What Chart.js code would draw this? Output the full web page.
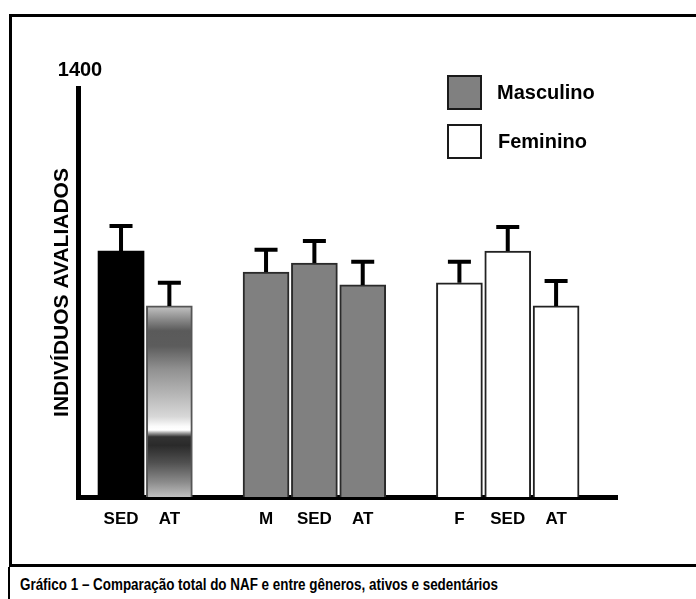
<!DOCTYPE html>
<html>
<head>
<meta charset="utf-8">
<script src="https://cdn.jsdelivr.net/npm/chart.js@4/dist/chart.umd.min.js"></script>
<style>
  body { margin: 0; background: #fff; }
  #wrap { position: relative; width: 696px; height: 599px; overflow: hidden; }
  #frame { position: absolute; left: 9px; top: 14px; width: 700px; height: 547px; border: 3px solid #000; border-right: none; }
  #capline { position: absolute; left: 8px; top: 567px; height: 32px; border-left: 2px solid #000; }
  #caption { position: absolute; left: 20px; top: 576px; height: 20px; line-height: 20px; transform-origin: 0 50%;
    font: bold 16px "Liberation Sans", Arial, sans-serif; color: #000; white-space: nowrap; }
  canvas { position: absolute; left: 0; top: 0; }
</style>
</head>
<body>
<div id="wrap">
  <div id="frame"></div>
  <div id="capline"></div>
  <div id="caption">Gráfico 1 – Comparação total do NAF e entre gêneros, ativos e sedentários</div>
  <canvas id="chart" width="696" height="599"></canvas>
</div>
<script>
// slots along the x axis, '' = empty gap between groups
const labels = ['SED', 'AT', '', 'M', 'SED', 'AT', '', 'F', 'SED', 'AT'];
const values = [842, 654, null, 770, 801, 726, null, 733, 842, 654];
const errors = [86, 79, null, 76, 75, 79, null, 72, 82, 85];
const yMax = 1400;
const legendLabels = ['Masculino', 'Feminino'];

const FONT = '"Liberation Sans", Arial, sans-serif';
const fills = ['#000000', 'grad', null, '#808080', '#808080', '#808080', null, '#ffffff', '#ffffff', '#ffffff'];
const strokes = ['#000000', '#555555', null, '#2a2a2a', '#2a2a2a', '#2a2a2a', null, '#222222', '#222222', '#222222'];
const legendFills = ['#808080', '#ffffff'];

// caption is set in a narrow face in the original: squeeze it to the same width
const cap = document.getElementById('caption');
cap.style.display = 'inline-block';
cap.style.transform = 'scaleX(' + (478 / cap.getBoundingClientRect().width) + ')';

function barFill(c) {
  const f = fills[c.dataIndex];
  if (f !== 'grad') return f;
  const chart = c.chart;
  if (!chart.chartArea) return '#999';
  const y = chart.scales.y;
  const top = y.getPixelForValue(values[c.dataIndex]);
  const bot = y.getPixelForValue(0);
  const g = chart.ctx.createLinearGradient(0, top, 0, bot);
  g.addColorStop(0, '#c4c4c4');
  g.addColorStop(0.07, '#8a8a8a');
  g.addColorStop(0.13, '#5a5a5a');
  g.addColorStop(0.21, '#5c5c5c');
  g.addColorStop(0.33, '#909090');
  g.addColorStop(0.47, '#b8b8b8');
  g.addColorStop(0.58, '#d8d8d8');
  g.addColorStop(0.63, '#fbfbfb');
  g.addColorStop(0.65, '#ffffff');
  g.addColorStop(0.665, '#a0a0a0');
  g.addColorStop(0.685, '#333333');
  g.addColorStop(0.73, '#2a2a2a');
  g.addColorStop(0.82, '#505050');
  g.addColorStop(0.92, '#8a8a8a');
  g.addColorStop(1, '#c0c0c0');
  return g;
}

const errorBars = {
  id: 'errorBars',
  afterDatasetsDraw(chart) {
    const { ctx, scales: { x, y } } = chart;
    ctx.save();
    ctx.strokeStyle = '#000';
    ctx.lineWidth = 4;
    values.forEach((v, i) => {
      if (v == null) return;
      const px = x.getPixelForValue(i);
      const top = y.getPixelForValue(v);
      const end = y.getPixelForValue(v + errors[i]);
      ctx.beginPath();
      ctx.moveTo(px, top);
      ctx.lineTo(px, end);
      ctx.moveTo(px - 11.5, end);
      ctx.lineTo(px + 11.5, end);
      ctx.stroke();
    });
    ctx.restore();
  }
};

const extras = {
  id: 'extras',
  afterDraw(chart) {
    const { ctx, chartArea, scales: { y } } = chart;
    ctx.save();
    ctx.fillStyle = '#000';
    ctx.font = 'bold 20px ' + FONT;
    ctx.textAlign = 'center';
    ctx.textBaseline = 'middle';
    ctx.fillText(String(y.max), chartArea.left + 2, y.getPixelForValue(y.max) - 18);

    ctx.textAlign = 'left';
    legendLabels.forEach((t, k) => {
      const bx = 448, by = 76 + k * 49;
      ctx.fillStyle = legendFills[k];
      ctx.fillRect(bx, by, 33, 33);
      ctx.lineWidth = 2;
      ctx.strokeStyle = '#1a1a1a';
      ctx.strokeRect(bx, by, 33, 33);
      ctx.fillStyle = '#000';
      ctx.fillText(t, bx + 49 + k, by + 17);
    });
    ctx.restore();
  }
};

new Chart(document.getElementById('chart'), {
  type: 'bar',
  data: {
    datasets: [{
      data: values.map((v, i) => ({ x: i, y: v })),
      backgroundColor: barFill,
      borderColor: c => strokes[c.dataIndex],
      borderWidth: c => (c.dataIndex === 0 ? 0 : 2),
      barThickness: 46
    }]
  },
  options: {
    responsive: false,
    animation: false,
    layout: { padding: { top: 88, right: 79, bottom: 42, left: 0 } },
    plugins: { legend: { display: false }, tooltip: { enabled: false } },
    scales: {
      x: {
        type: 'linear',
        min: -0.89,
        max: 10.26,
        offset: false,
        grid: { display: false, drawTicks: false },
        border: { display: true, width: 5, color: '#000' },
        ticks: {
          stepSize: 1,
          includeBounds: false,
          autoSkip: false,
          maxRotation: 0,
          padding: 12,
          color: '#000',
          font: { family: FONT, size: 17, weight: 'bold' },
          callback: v => (Number.isInteger(v) ? (labels[v] || '') : '')
        },
        afterFit: s => { s.height = 60; }
      },
      y: {
        min: 0,
        max: yMax,
        grid: { display: false, drawTicks: false },
        border: { display: true, width: 5, color: '#000' },
        ticks: { display: false },
        title: {
          display: true,
          text: 'INDIVÍDUOS AVALIADOS',
          color: '#000',
          font: { family: FONT, size: 21, weight: 'bold' },
          padding: { top: 50, bottom: 0 }
        },
        afterFit: s => { s.width = 78; }
      }
    }
  },
  plugins: [errorBars, extras]
});
</script>
</body>
</html>
